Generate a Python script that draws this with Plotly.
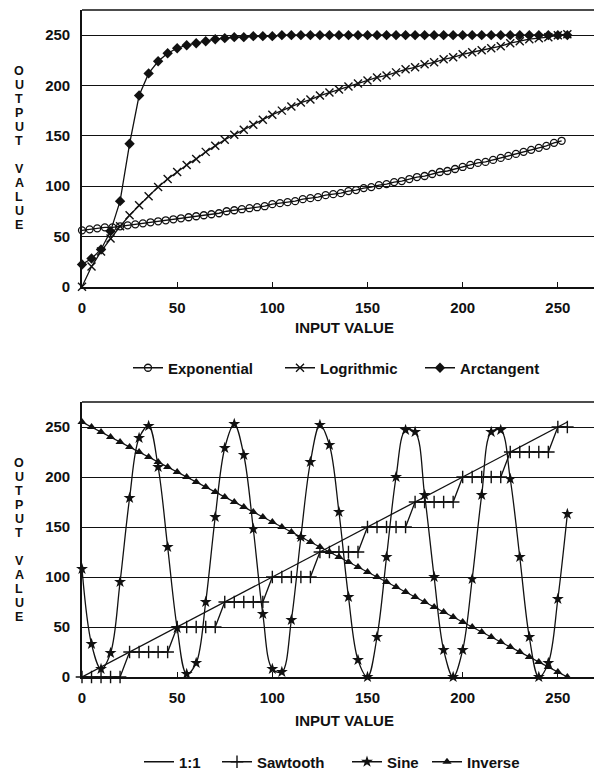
import plotly.graph_objects as go

# ---------------- data: top chart ----------------
input_top = [0, 5, 10, 15, 20, 25, 30, 35, 40, 45, 50, 55, 60, 65, 70, 75, 80, 85, 90, 95,
             100, 105, 110, 115, 120, 125, 130, 135, 140, 145, 150, 155, 160, 165, 170, 175,
             180, 185, 190, 195, 200, 205, 210, 215, 220, 225, 230, 235, 240, 245, 250, 255]
exp_input = [0, 4, 8, 12, 16, 20, 24, 28, 32, 36, 40, 44, 48, 52, 56, 60, 64, 68, 72, 76,
             80, 84, 88, 92, 96, 100, 104, 108, 112, 116, 120, 124, 128, 132, 136, 140, 144,
             148, 152, 156, 160, 164, 168, 172, 176, 180, 184, 188, 192, 196, 200, 204, 208,
             212, 216, 220, 224, 228, 232, 236, 240, 244, 248, 252]
exponential = [56, 57, 58, 59, 59, 60, 61, 62, 63, 64, 65, 66, 67, 68, 69, 70, 71, 72, 73, 75,
               76, 77, 78, 79, 80, 82, 83, 84, 85, 87, 88, 89, 91, 92, 93, 95, 96, 98, 99, 101,
               102, 104, 105, 107, 109, 110, 112, 114, 115, 117, 119, 121, 123, 124, 126, 128,
               130, 132, 134, 136, 138, 140, 143, 145]
logrithmic = [0, 20, 35, 48, 60, 71, 81, 90, 99, 107, 114, 121, 127, 134, 140, 146, 151, 156,
              161, 166, 171, 175, 179, 183, 186, 190, 193, 196, 199, 202, 205, 208, 210, 213,
              216, 218, 221, 223, 226, 228, 231, 233, 235, 237, 239, 242, 244, 246, 247, 248,
              250, 251]
arctangent = [22, 28, 37, 55, 85, 142, 190, 212, 224, 232, 237, 240, 242, 244, 246, 247, 248,
              248, 249, 249, 249, 250, 250, 250, 250, 250, 250, 250, 250, 250, 250, 250, 250,
              250, 250, 250, 250, 250, 250, 250, 250, 250, 250, 250, 250, 250, 250, 250, 250,
              250, 250, 250]

# ---------------- data: bottom chart ----------------
input_bot = input_top
identity_x = [0, 255]
identity_y = [0, 255]
sawtooth = [0, 0, 0, 0, 0, 25, 25, 25, 25, 25, 50, 50, 50, 50, 50, 75, 75, 75, 75, 75,
            100, 100, 100, 100, 100, 125, 125, 125, 125, 125, 150, 150, 150, 150, 150,
            175, 175, 175, 175, 175, 200, 200, 200, 200, 200, 225, 225, 225, 225, 225, 250, 250]
sine = [108, 33, 8, 24, 95, 179, 239, 251, 210, 130, 49, 3, 14, 75, 160, 229, 253, 222, 148, 63,
        8, 5, 57, 140, 215, 252, 232, 165, 80, 17, 0, 40, 120, 200, 247, 245, 182, 100, 27, 0,
        27, 98, 182, 245, 247, 198, 120, 40, 0, 14, 78, 163]
inverse = [255, 250, 245, 240, 235, 230, 225, 220, 215, 210, 205, 200, 195, 190, 185, 180,
           175, 170, 165, 160, 155, 150, 145, 140, 135, 130, 125, 120, 115, 110, 105, 100,
           95, 90, 85, 80, 75, 70, 65, 60, 55, 50, 45, 40, 35, 30, 25, 20, 15, 10, 5, 0]

y_ticks = [0, 50, 100, 150, 200, 250]
x_ticks = [0, 50, 100, 150, 200, 250]
y_title = "OUTPUT VALUE"
x_title = "INPUT VALUE"

# ---------------- figure ----------------
W, H = 594, 770
L = 82
FONT = "Liberation Sans"
BLACK = "#111111"

def py2paper(py):
    return (H - py) / H

def px2paper(px):
    return (px - L) / (W - L)

fig = go.Figure()

LW = 1.3
common = dict(mode="lines+markers", cliponaxis=False)

fig.add_trace(go.Scatter(x=exp_input, y=exponential, name="Exponential",
                         line=dict(color=BLACK, width=LW),
                         marker=dict(symbol="circle-open", size=7, color=BLACK, line=dict(width=1.3)),
                         xaxis="x", yaxis="y", legend="legend", **common))
fig.add_trace(go.Scatter(x=input_top, y=logrithmic, name="Logrithmic",
                         line=dict(color=BLACK, width=LW),
                         marker=dict(symbol="x-thin", size=8, color=BLACK, line=dict(width=1.4, color=BLACK)),
                         xaxis="x", yaxis="y", legend="legend2", **common))
fig.add_trace(go.Scatter(x=input_top, y=arctangent, name="Arctangent",
                         line=dict(color=BLACK, width=LW),
                         marker=dict(symbol="diamond", size=8, color=BLACK),
                         xaxis="x", yaxis="y", legend="legend3", **common))

fig.add_trace(go.Scatter(x=identity_x, y=identity_y, name="1:1", mode="lines",
                         line=dict(color=BLACK, width=LW),
                         xaxis="x2", yaxis="y2", legend="legend4"))
fig.add_trace(go.Scatter(x=input_bot, y=sawtooth, name="Sawtooth",
                         line=dict(color=BLACK, width=LW),
                         marker=dict(symbol="cross-thin", size=9, color=BLACK, line=dict(width=1.4, color=BLACK)),
                         xaxis="x2", yaxis="y2", legend="legend5", **common))
fig.add_trace(go.Scatter(x=input_bot, y=sine, name="Sine",
                         line=dict(color=BLACK, width=LW, shape="spline", smoothing=1.0),
                         marker=dict(symbol="star", size=9, color=BLACK),
                         xaxis="x2", yaxis="y2", legend="legend6", **common))
fig.add_trace(go.Scatter(x=input_bot, y=inverse, name="Inverse",
                         line=dict(color=BLACK, width=LW),
                         marker=dict(symbol="triangle-up", size=8, color=BLACK),
                         xaxis="x2", yaxis="y2", legend="legend7", **common))

tickfont = dict(family=FONT, size=15, color=BLACK, weight="bold")

xax = dict(range=[0, 269], tickvals=x_ticks, ticks="inside", ticklen=5, tickcolor=BLACK,
           showline=True, linecolor=BLACK, linewidth=1.6, showgrid=False, zeroline=False,
           tickfont=tickfont, ticklabelstandoff=6, fixedrange=True, automargin=False)
yax = dict(range=[0, 275], tickvals=y_ticks, ticks="", showline=True, linecolor=BLACK,
           linewidth=1.6, showgrid=True, gridcolor=BLACK, gridwidth=1.2, zeroline=False,
           tickfont=tickfont, ticklabelstandoff=7, fixedrange=True, automargin=False)

top_dom = [py2paper(286.7), py2paper(10)]
bot_dom = [py2paper(677), py2paper(402)]

legfont = dict(family=FONT, size=15, color=BLACK, weight="bold")

def leg(px, py):
    return dict(orientation="h", x=px2paper(px), xanchor="left", y=py2paper(py),
                yanchor="middle", font=legfont, itemwidth=30, bgcolor="rgba(0,0,0,0)",
                borderwidth=0)

fig.update_layout(
    width=W, height=H,
    margin=dict(l=L, r=0, t=0, b=0, autoexpand=False),
    paper_bgcolor="white", plot_bgcolor="white",
    font=dict(family=FONT, color=BLACK),
    xaxis=dict(domain=[0, 1], anchor="y", **xax),
    yaxis=dict(domain=top_dom, anchor="x", **yax),
    xaxis2=dict(domain=[0, 1], anchor="y2", **xax),
    yaxis2=dict(domain=bot_dom, anchor="x2", **yax),
    legend=leg(128, 368),
    legend2=leg(280, 368),
    legend3=leg(420, 368),
    legend4=leg(139, 762),
    legend5=leg(217, 762),
    legend6=leg(347, 762),
    legend7=leg(427, 762),
    showlegend=True,
)

# top frame lines
for yr, xr in (("y domain", "x domain"), ("y2 domain", "x2 domain")):
    fig.add_shape(type="line", xref=xr, yref=yr, x0=0, x1=1, y0=1, y1=1,
                  line=dict(color=BLACK, width=1.4))

# x-axis titles
for py in (327, 720):
    fig.add_annotation(text=x_title, xref="paper", yref="paper", x=px2paper(344),
                       y=py2paper(py), showarrow=False, xanchor="center", yanchor="middle",
                       font=dict(family=FONT, size=15, color=BLACK, weight="bold"))

# stacked y-axis titles (one letter per line)
offsets = [0, 14, 28, 42, 56, 70, None, 98, 112, 126, 140, 154]
for start in (71, 463):
    for ch, off in zip(y_title, offsets):
        if ch == " " or off is None:
            continue
        fig.add_annotation(text=ch, xref="paper", yref="paper", x=px2paper(19),
                           y=py2paper(start + off), showarrow=False, xanchor="center",
                           yanchor="middle",
                           font=dict(family=FONT, size=12.5, color=BLACK, weight="bold"))

fig.write_html("out.html", config={"displayModeBar": False},
               post_script="document.body.style.margin='0';")
